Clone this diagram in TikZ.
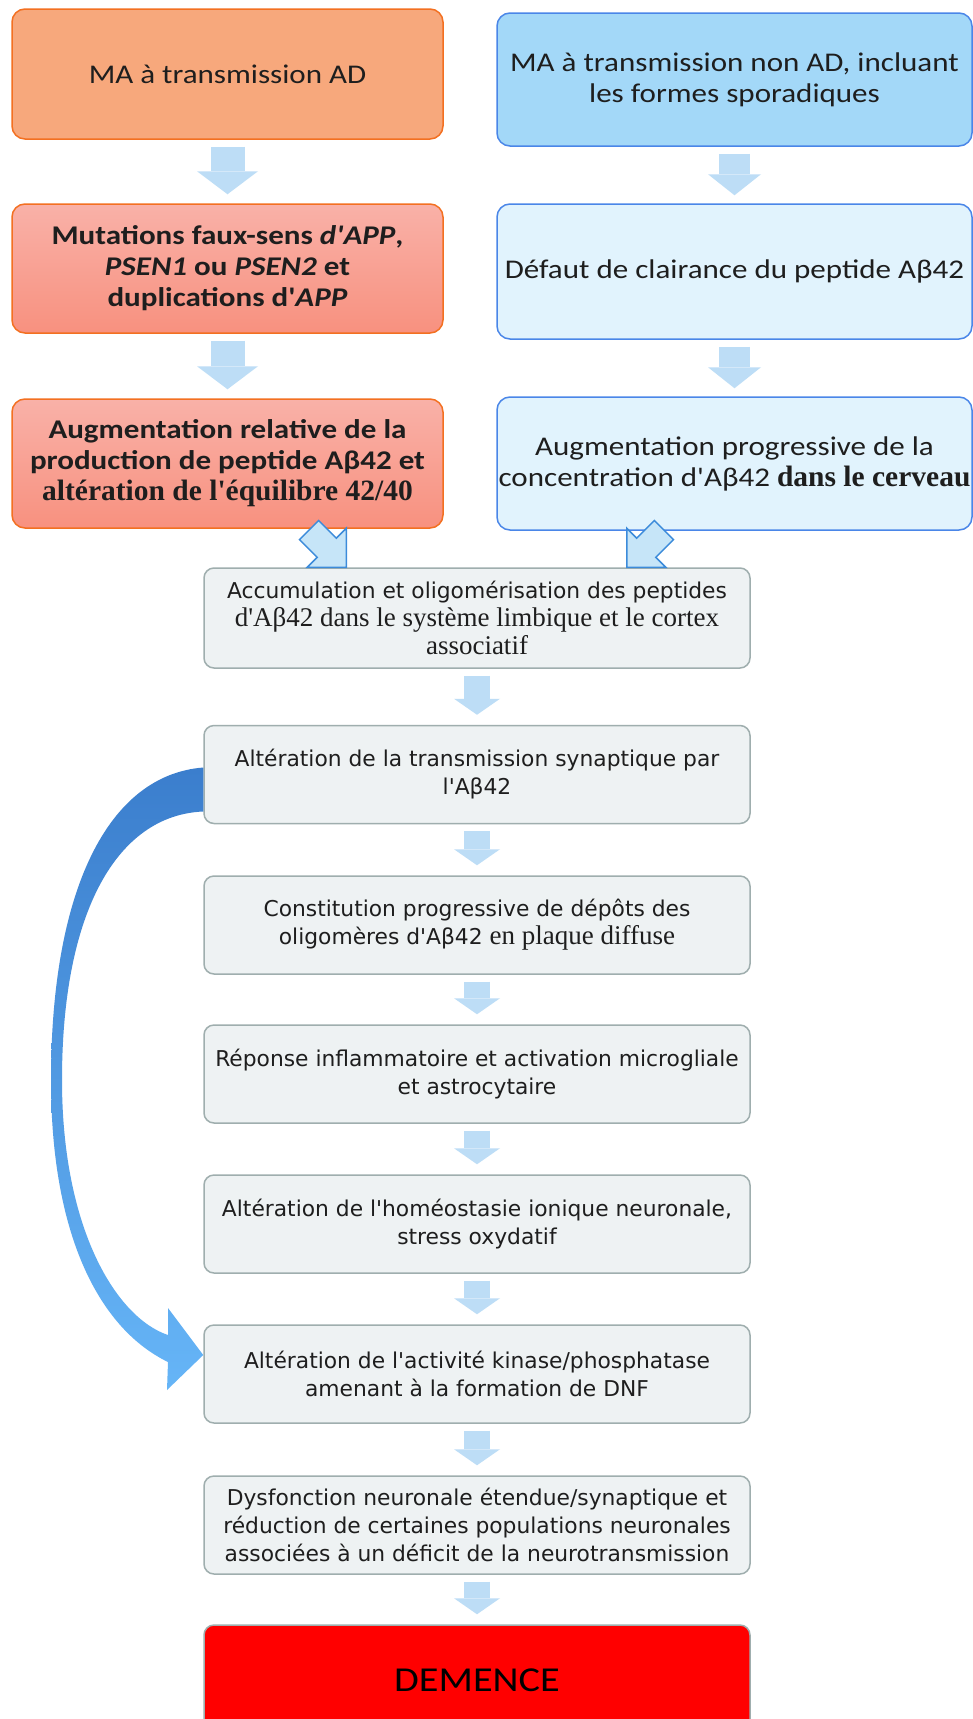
\documentclass[tikz,border=0pt]{standalone}
\usepackage{fontspec}
\newfontfamily\calf[FakeStretch=1.15]{Carlito}
\newfontfamily\tahf{DejaVu Sans}
\newfontfamily\camf{Liberation Serif}
\usetikzlibrary{arrows.meta,calc}
\definecolor{orgB}{HTML}{F37021}
\definecolor{org1}{HTML}{F7A87C}
\definecolor{pinkT}{HTML}{F9B1A8}
\definecolor{pinkB}{HTML}{F8917F}
\definecolor{bluB}{HTML}{4A86E8}
\definecolor{blu1}{HTML}{A3D8F8}
\definecolor{blu2}{HTML}{E1F3FD}
\definecolor{grayF}{HTML}{EEF2F3}
\definecolor{grayB}{HTML}{9FAEAE}
\definecolor{arrC}{HTML}{BDDDF6}
\definecolor{diagF}{HTML}{C6E5F8}
\definecolor{diagB}{HTML}{3C8BDA}
\definecolor{curT}{HTML}{3B7ECD}
\definecolor{curB}{HTML}{66B5F7}
\definecolor{txt}{HTML}{1E1E1E}
\newcommand\ltext{\calf\fontsize{27}{31}\selectfont}
\newcommand\ctext{\tahf\fontsize{21.8}{28}\selectfont}
\newcommand\serc{\camf\fontsize{27}{28}\selectfont}
\newcommand\serb{\camf\bfseries\fontsize{29.5}{31}\selectfont}
\begin{document}
\begin{tikzpicture}[x=1pt,y=-1pt,
  box/.style={rounded corners=13pt, line width=1.5pt, inner sep=0pt, align=center, text=txt},
  lbox/.style={box, draw=orgB, minimum width=431pt, font=\ltext},
  rbox/.style={box, draw=bluB, minimum width=475pt, font=\ltext},
  cbox/.style={box, draw=grayB, fill=grayF, rounded corners=10pt, minimum width=546pt, minimum height=98pt, font=\ctext},
  darrL/.style={draw=arrC, line width=34pt, -{Triangle[length=23pt,width=61pt,line width=0pt]}, shorten <=7pt, shorten >=9pt},
  darrR/.style={draw=arrC, line width=31pt, -{Triangle[length=21pt,width=53pt,line width=0pt]}, shorten <=7pt, shorten >=8pt},
  darrC/.style={draw=arrC, line width=26pt, -{Triangle[length=16pt,width=46pt,line width=0pt]}, shorten <=7pt, shorten >=10pt},
  diagA/.style={draw=diagB, fill=diagF, line width=1.5pt, line join=miter}
]
\clip (0,0) rectangle (973,1719);
\fill[white] (0,0) rectangle (973,1719);

% left column
\node[lbox, fill=org1, minimum height=130pt] (B1) at (227.5,74) {MA à transmission AD};
\node[lbox, top color=pinkT, bottom color=pinkB, minimum height=129pt] (B3) at (227.5,268.5)
  {\bfseries Mutations faux-sens \textit{d'APP},\\ \bfseries\textit{PSEN1} ou \textit{PSEN2} et\\ \bfseries duplications d'\textit{APP}};
\node[lbox, top color=pinkT, bottom color=pinkB, minimum height=129pt] (B5) at (227.5,463.5)
  {\bfseries Augmentation relative de la\\ \bfseries production de peptide Aβ42 et\\ {\serb altération de l'équilibre 42/40}};

% right column
\node[rbox, fill=blu1, minimum height=133pt] (B2) at (734.5,79.5) {MA à transmission non AD, incluant\\ les formes sporadiques};
\node[rbox, fill=blu2, minimum height=135pt] (B4) at (734.5,271.5) {Défaut de clairance du peptide Aβ42};
\node[rbox, fill=blu2, minimum height=133pt] (B6) at (734.5,463.5) {Augmentation progressive de la\\ concentration d'Aβ42 {\serb dans le cerveau}};

% center column
\node[cbox, minimum height=100pt] (B7) at (477,618) {Accumulation et oligomérisation des peptides\\ {\serc d'Aβ42 dans le système limbique et le cortex}\\ {\serc associatif}};
\node[cbox] (B8) at (477,774.5) {Altération de la transmission synaptique par\\ l'Aβ42};
\node[cbox] (B9) at (477,925) {Constitution progressive de dépôts des\\ oligomères d'Aβ42 {\serc en plaque diffuse}};
\node[cbox] (B10) at (477,1074) {Réponse inflammatoire et activation microgliale\\ et astrocytaire};
\node[cbox] (B11) at (477,1224) {Altération de l'homéostasie ionique neuronale,\\ stress oxydatif};
\node[cbox] (B12) at (477,1374) {Altération de l'activité kinase/phosphatase\\ amenant à la formation de DNF};
\node[cbox] (B13) at (477,1525) {Dysfonction neuronale étendue/synaptique et\\ réduction de certaines populations neuronales\\ associées à un déficit de la neurotransmission};
\node[box, draw=grayB, fill=red, rounded corners=10pt, minimum width=546pt, minimum height=130pt, text=black, font={\calf\fontsize{35}{40}\selectfont}] (D) at (477,1690) {\raisebox{19pt}{DEMENCE}};

% straight block arrows
\draw[darrL] (B1) -- (B3);
\draw[darrL] (B3) -- (B5);
\draw[darrR] (B2) -- (B4);
\draw[darrR] (B4) -- (B6);
\draw[darrC] (B7) -- (B8);
\draw[darrC] (B8) -- (B9);
\draw[darrC] (B9) -- (B10);
\draw[darrC] (B10) -- (B11);
\draw[darrC] (B11) -- (B12);
\draw[darrC] (B12) -- (B13);
\draw[darrC] (B13) -- (D);

% diagonal arrows into B7
\draw[diagA] ([xshift=143pt]B7.north west) -- ++(0,-39) -- ++(-9.95,9.95) -- ++(-17.7,-17.7) -- ++(-19.1,19.1) -- ++(17.7,17.7) -- ++(-9.95,9.95) -- cycle;
\draw[diagA] ([xshift=-124pt]B7.north east) -- ++(0,-39) -- ++(9.95,9.95) -- ++(17.7,-17.7) -- ++(19.1,19.1) -- ++(-17.7,17.7) -- ++(9.95,9.95) -- cycle;

% curved arrow B8 -> B12
\shade[top color=curT, bottom color=curB]
  ([yshift=7pt]B8.west) .. controls (108,775) and (51,890) .. (51,1080)
  .. controls (51,1240) and (102,1330) .. (168,1362) -- (167,1390)
  -- ([yshift=19pt]B12.west) -- (168,1308) -- (168,1335)
  .. controls (117,1318) and (62,1230) .. (62,1080)
  .. controls (62,910) and (118,815) .. ([yshift=-37pt]B8.west) -- cycle;
\end{tikzpicture}
\end{document}
